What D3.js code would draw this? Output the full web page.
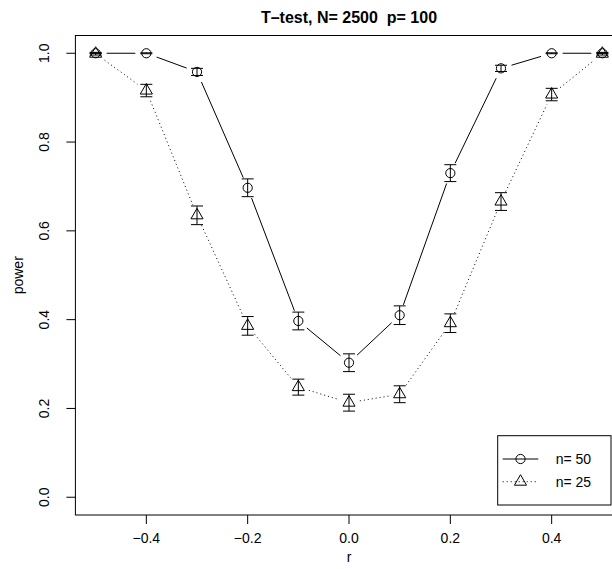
<!DOCTYPE html>
<html>
<head>
<meta charset="utf-8">
<script src="https://cdn.jsdelivr.net/npm/d3@7"></script>
<style>
  html, body { margin: 0; padding: 0; background: #fff; }
  svg text { font-family: "Liberation Sans", Arial, Helvetica, sans-serif; fill: #000; }
</style>
</head>
<body>
<div id="vis-display"></div>
<script>
// Power curves of a T-test: power vs r for two sample sizes, with error bars.
// Mimics an R base-graphics plot (type = "b", box, legend bottomright).

const TITLE   = "T\u2013test, N= 2500  p= 100";
const X_LABEL = "r";
const Y_LABEL = "power";

const R_VALUES  = [-0.5, -0.4, -0.3, -0.2, -0.1, 0.0, 0.1, 0.2, 0.3, 0.4, 0.5];

// n = 50 (circles, solid line)
const POWER_N50 = [1.000, 1.000, 0.958, 0.697, 0.397, 0.303, 0.410, 0.730, 0.966, 1.000, 1.000];
const ERR_N50   = [0.000, 0.001, 0.008, 0.020, 0.020, 0.020, 0.021, 0.019, 0.007, 0.001, 0.000];

// n = 25 (triangles, dotted line)
const POWER_N25 = [0.999, 0.916, 0.635, 0.386, 0.248, 0.213, 0.232, 0.392, 0.666, 0.907, 0.999];
const ERR_N25   = [0.003, 0.014, 0.021, 0.021, 0.018, 0.019, 0.019, 0.021, 0.020, 0.014, 0.003];

const SERIES_LABELS = ["n= 50", "n= 25"];

const X_TICKS = [-0.4, -0.2, 0.0, 0.2, 0.4];
const Y_TICKS = [0.0, 0.2, 0.4, 0.6, 0.8, 1.0];

const W = 612, H = 569;

// plot region (R usr extends 4% past the data range)
const PLOT = { left: 75.4, right: 622.6, top: 35.5, bottom: 515 };

const x = d3.scaleLinear().domain([-0.54, 0.54]).range([PLOT.left, PLOT.right]);
const y = d3.scaleLinear().domain([-0.04, 1.04]).range([PLOT.bottom, PLOT.top]);

const svg = d3.select("#vis-display").append("svg")
  .attr("width", W)
  .attr("height", H);

const fmt = d3.format(".1f");

// ── Axes ──────────────────────────────────────────────────────────────────

const TICK_LEN = 9;
const FONT = 14;

const xAxis = svg.append("g");
X_TICKS.forEach(t => {
  xAxis.append("line")
    .attr("x1", x(t)).attr("x2", x(t))
    .attr("y1", PLOT.bottom).attr("y2", PLOT.bottom + TICK_LEN)
    .attr("stroke", "#000");
  xAxis.append("text")
    .attr("x", x(t)).attr("y", 543)
    .attr("text-anchor", "middle")
    .style("font-size", FONT + "px")
    .text(fmt(t));
});

const yAxis = svg.append("g");
Y_TICKS.forEach(t => {
  yAxis.append("line")
    .attr("x1", PLOT.left - TICK_LEN).attr("x2", PLOT.left)
    .attr("y1", y(t)).attr("y2", y(t))
    .attr("stroke", "#000");
  yAxis.append("text")
    .attr("transform", `translate(49,${y(t)}) rotate(-90)`)
    .attr("text-anchor", "middle")
    .style("font-size", FONT + "px")
    .text(fmt(t));
});

// box
svg.append("rect")
  .attr("x", PLOT.left).attr("y", PLOT.top)
  .attr("width", PLOT.right - PLOT.left)
  .attr("height", PLOT.bottom - PLOT.top)
  .attr("fill", "none")
  .attr("stroke", "#000");

// titles
svg.append("text")
  .attr("x", (PLOT.left + PLOT.right) / 2).attr("y", 23)
  .attr("text-anchor", "middle")
  .attr("xml:space", "preserve")
  .style("white-space", "pre")
  .style("font-size", "16px")
  .style("font-weight", "bold")
  .text(TITLE);

svg.append("text")
  .attr("x", (PLOT.left + PLOT.right) / 2).attr("y", 562)
  .attr("text-anchor", "middle")
  .style("font-size", FONT + "px")
  .text(X_LABEL);

svg.append("text")
  .attr("transform", `translate(23,${(PLOT.top + PLOT.bottom) / 2}) rotate(-90)`)
  .attr("text-anchor", "middle")
  .style("font-size", FONT + "px")
  .text(Y_LABEL);

// ── Series ────────────────────────────────────────────────────────────────

const GAP = 11;   // type = "b" leaves a gap around each point
const CAP = 6;    // half-width of error bar caps
const CIRCLE_R = 4.6;
const TRI_R = 7;  // R pch = 2 triangle, centroid at the point

function trianglePath(cx, cy) {
  const hx = TRI_R * Math.sqrt(3) / 2, hy = TRI_R / 2;
  return `M${cx},${cy - TRI_R}L${cx + hx},${cy + hy}L${cx - hx},${cy + hy}Z`;
}

function drawSeries(values, errs, shape, dash) {
  const pts = R_VALUES.map((r, i) => ({ px: x(r), py: y(values[i]), v: values[i], e: errs[i] }));
  const g = svg.append("g");

  // connecting segments, shortened at each end
  for (let i = 0; i < pts.length - 1; i++) {
    const a = pts[i], b = pts[i + 1];
    const dx = b.px - a.px, dy = b.py - a.py;
    const len = Math.hypot(dx, dy);
    if (len <= 2 * GAP) continue;
    const ux = dx / len, uy = dy / len;
    g.append("line")
      .attr("x1", a.px + ux * GAP).attr("y1", a.py + uy * GAP)
      .attr("x2", b.px - ux * GAP).attr("y2", b.py - uy * GAP)
      .attr("stroke", "#000")
      .attr("stroke-dasharray", dash);
  }

  // error bars
  pts.forEach(p => {
    const lo = y(p.v - p.e), hi = y(p.v + p.e);
    g.append("line").attr("x1", p.px).attr("x2", p.px).attr("y1", lo).attr("y2", hi).attr("stroke", "#000");
    g.append("line").attr("x1", p.px - CAP).attr("x2", p.px + CAP).attr("y1", lo).attr("y2", lo).attr("stroke", "#000");
    g.append("line").attr("x1", p.px - CAP).attr("x2", p.px + CAP).attr("y1", hi).attr("y2", hi).attr("stroke", "#000");
  });

  // markers
  pts.forEach(p => drawMarker(g, shape, p.px, p.py));
}

function drawMarker(g, shape, cx, cy) {
  if (shape === "circle") {
    g.append("circle").attr("cx", cx).attr("cy", cy).attr("r", CIRCLE_R)
      .attr("fill", "none").attr("stroke", "#000");
  } else {
    g.append("path").attr("d", trianglePath(cx, cy))
      .attr("fill", "none").attr("stroke", "#000");
  }
}

drawSeries(POWER_N50, ERR_N50, "circle", null);
drawSeries(POWER_N25, ERR_N25, "triangle", "1,3");

// ── Legend ────────────────────────────────────────────────────────────────

const LEG = { x0: 497.7, x1: 611, y0: 435.7, y1: 505 };
const legend = svg.append("g");
legend.append("rect")
  .attr("x", LEG.x0).attr("y", LEG.y0)
  .attr("width", LEG.x1 - LEG.x0).attr("height", LEG.y1 - LEG.y0)
  .attr("fill", "#fff").attr("stroke", "#000");

[["circle", null], ["triangle", "1,3"]].forEach(([shape, dash], i) => {
  const ly = 459 + i * 22.7;
  legend.append("line")
    .attr("x1", 502.7).attr("x2", 538.3)
    .attr("y1", ly).attr("y2", ly)
    .attr("stroke", "#000")
    .attr("stroke-dasharray", dash);
  drawMarker(legend, shape, 520.5, ly);
  legend.append("text")
    .attr("x", 555.7).attr("y", ly)
    .attr("dy", "0.36em")
    .style("font-size", FONT + "px")
    .text(SERIES_LABELS[i]);
});
</script>
</body>
</html>
